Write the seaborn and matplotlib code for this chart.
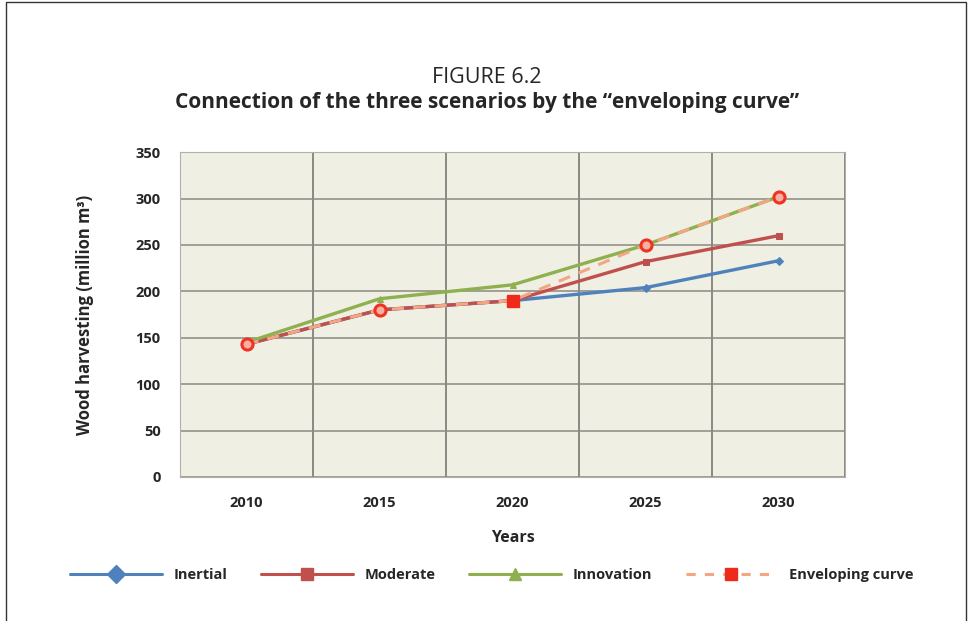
import pandas as pd
import matplotlib.pyplot as plt
import seaborn as sns
from matplotlib.lines import Line2D
from matplotlib.patches import Rectangle

# data
years = ["2010", "2015", "2020", "2025", "2030"]
inertial = [143, 180, 190, 204, 233]
moderate = [143, 180, 190, 232, 260]
innovation = [145, 192, 207, 250, 302]
enveloping = [143, 180, 190, 250, 302]
env_markers = ["o", "o", "s", "o", "o"]

series = {
    "Inertial": (inertial, "#4f81bd", "D"),
    "Moderate": (moderate, "#c0504d", "s"),
    "Innovation": (innovation, "#8fb04f", "^"),
}

sns.set_style("white")
plt.rcParams["font.family"] = ["Open Sans", "DejaVu Sans"]

fig = plt.figure(figsize=(9.68, 6.21), dpi=100)
ax = fig.add_axes([0.186, 0.232, 0.687, 0.523])
ax.set_facecolor("#efefe3")

for name, (vals, color, mk) in series.items():
    df = pd.DataFrame({"year": years, "value": vals})
    sns.lineplot(data=df, x="year", y="value", ax=ax, color=color, lw=2.4,
                 marker=mk, markersize=4, markeredgecolor=color, zorder=3)

env = pd.DataFrame({"year": years, "value": enveloping})
sns.lineplot(data=env, x="year", y="value", ax=ax, color="#f4a582", lw=2.2,
             linestyle=(0, (4, 3)), zorder=4)
for i, (y, v, m) in enumerate(zip(years, enveloping, env_markers)):
    if m == "o":
        ax.plot(i, v, marker="o", ms=8, mfc="#f4b0a0", mec="#ee3322", mew=2.2, zorder=5)
    else:
        ax.plot(i, v, marker="s", ms=9, color="#ee2a1b", zorder=5)

ax.set_xlim(-0.5, len(years) - 0.5)
ax.set_ylim(0, 350)
ax.set_yticks(range(0, 351, 50))
ax.set_xticks(range(len(years)))
ax.set_xticklabels(years)
ax.set_xticks([i - 0.5 for i in range(len(years) + 1)], minor=True)
ax.grid(axis="y", which="major", color="#8a8a84", lw=1.1)
ax.grid(axis="x", which="minor", color="#6e6e6a", lw=1.1)
ax.grid(axis="x", which="major", visible=False)
ax.tick_params(axis="both", which="both", length=0, pad=14)
for lab in ax.get_xticklabels() + ax.get_yticklabels():
    lab.set_fontweight("bold")
    lab.set_fontsize(10.5)
for s in ax.spines.values():
    s.set_color("#b0b0aa")

ax.set_xlabel("Years", fontsize=11.5, fontweight="bold", labelpad=14)
ax.set_ylabel("Wood harvesting (million m³)", fontsize=12, fontweight="bold", labelpad=30)

fig.text(0.503, 0.866, "FIGURE 6.2", ha="center", fontsize=15.5)
fig.text(0.503, 0.826, "Connection of the three scenarios by the \u201cenveloping curve\u201d",
         ha="center", fontsize=15, fontweight="bold")

handles = [
    Line2D([], [], color="#4f81bd", lw=2.2, marker="D", ms=9),
    Line2D([], [], color="#c0504d", lw=2.2, marker="s", ms=9),
    Line2D([], [], color="#8fb04f", lw=2.2, marker="^", ms=9),
    Line2D([], [], color="#f4a582", lw=2.2, linestyle=(0, (3, 3)),
           marker="s", ms=9, mfc="#ee2a1b", mec="#ee2a1b"),
]
leg = fig.legend(handles, ["Inertial", "Moderate", "Innovation", "Enveloping curve"],
                 loc="center", bbox_to_anchor=(0.508, 0.074), ncol=4, frameon=False,
                 handlelength=6.3, columnspacing=2.3, handletextpad=0.8,
                 prop={"weight": "bold", "size": 10.5})

fig.patches.append(Rectangle((0.006, -0.1), 0.992, 1.097, transform=fig.transFigure,
                             fill=False, ec="#333333", lw=1))

fig.savefig("out.png", dpi=100)
